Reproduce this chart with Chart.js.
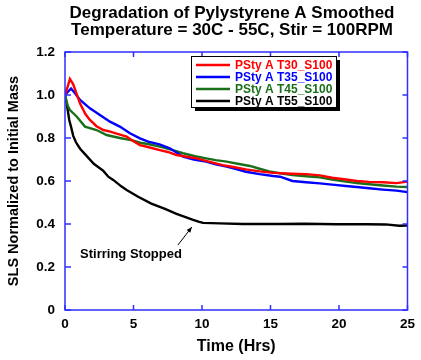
<!DOCTYPE html>
<html>
<head>
<meta charset="utf-8">
<script src="https://cdn.jsdelivr.net/npm/chart.js@4.4.1/dist/chart.umd.min.js"></script>
<style>
html,body{margin:0;padding:0;background:#fff;}
#wrap{width:421px;height:360px;position:relative;}
</style>
</head>
<body>
<div id="wrap"><canvas id="c" width="421" height="360"></canvas></div>
<script>
const titleLines = ["Degradation of Pylystyrene A Smoothed", "Temperature = 30C - 55C, Stir = 100RPM"];
const xTitle = "Time (Hrs)";
const yTitle = "SLS Normalized to Initial Mass";
const seriesNames = ["PSty A T30_S100", "PSty A T35_S100", "PSty A T45_S100", "PSty A T55_S100"];
const seriesColors = ["#ff0000", "#0000ff", "#1a701a", "#000000"];
const xTicks = [0, 5, 10, 15, 20, 25];
const yTicks = [0, 0.2, 0.4, 0.6, 0.8, 1, 1.2];
const annotationText = "Stirring Stopped";
const annotationTextAt = [1.1, 0.242];
const annotationArrowFrom = [8.24, 0.302];
const annotationArrowTo = [9.26, 0.386];

const t30 = [0,0.2,0.36,0.6,1.1,1.5,1.82,2.3,2.8,3.3,3.77,4.5,5.0,5.47,6.05,6.92,7.5,8.14,9.6,10.5,11.5,12.3,13.2,14.2,15.2,16.6,17.6,18.6,19.5,20.5,21.3,22.2,23.2,24.2,25];
const v30 = [1.0,1.04,1.075,1.05,0.96,0.91,0.884,0.855,0.837,0.83,0.82,0.806,0.785,0.767,0.758,0.744,0.735,0.721,0.705,0.69,0.674,0.665,0.654,0.645,0.638,0.634,0.632,0.626,0.615,0.607,0.6,0.596,0.594,0.59,0.597];

const t35 = [0,0.44,0.7,1.1,1.82,2.55,3.28,4.0,4.74,5.47,6.07,6.9,7.65,8.62,9.4,10.3,11.0,11.8,12.5,13.2,14.2,15.2,15.7,16.6,17.6,18.6,19.5,20.5,21.3,22.2,23.2,24.2,25];
const v35 = [1.0,1.03,1.01,0.977,0.938,0.907,0.876,0.853,0.822,0.798,0.783,0.77,0.752,0.713,0.7,0.69,0.678,0.667,0.655,0.643,0.632,0.623,0.62,0.6,0.594,0.589,0.583,0.577,0.572,0.566,0.56,0.555,0.548];

const t45 = [0,0.2,0.36,0.85,1.46,2.3,3.04,4.0,5.0,5.47,6.07,6.92,7.8,8.62,9.5,10.3,11.0,11.8,12.6,13.5,14.2,14.9,15.7,16.6,17.6,18.6,19.5,20.5,21.3,22.2,23.2,24.2,25];
const v45 = [1.0,0.95,0.93,0.9,0.853,0.837,0.814,0.8,0.788,0.778,0.772,0.76,0.745,0.729,0.715,0.705,0.697,0.69,0.68,0.67,0.657,0.645,0.636,0.628,0.622,0.617,0.607,0.597,0.591,0.585,0.579,0.574,0.572];

const t55 = [0,0.15,0.31,0.45,0.6,0.8,1.1,1.46,2.1,2.8,3.16,3.52,4.13,4.5,5.34,6.3,7.3,8.14,8.8,9.35,9.8,10.08,11.3,13,15.7,17.5,19.8,22,23.4,24.4,25];
const v55 = [1.0,0.95,0.884,0.85,0.81,0.78,0.75,0.725,0.68,0.647,0.62,0.605,0.574,0.558,0.527,0.495,0.47,0.447,0.432,0.419,0.41,0.405,0.403,0.4,0.4,0.401,0.399,0.399,0.398,0.392,0.393];

const FONT = "'Liberation Sans', Arial, Helvetica, sans-serif";
const AXIS_BLUE = "#2f2fff";

function pts(t, v){ return t.map((x,i)=>({x:x, y:v[i]})); }
const allT = [t30,t35,t45,t55];
const allV = [v30,v35,v45,v55];

const datasets = seriesNames.map((name,i)=>({
  label: name,
  data: pts(allT[i], allV[i]),
  borderColor: seriesColors[i],
  backgroundColor: seriesColors[i],
  borderWidth: 2.4,
  pointRadius: 0,
  tension: 0,
  fill: false
}));
// draw black first so colored lines are layered like reference
datasets.forEach((d,i)=>{ d.order = i; });

const decor = {
  id: 'decor',
  afterDraw(chart){
    const ctx = chart.ctx;
    const a = chart.chartArea;
    const xs = chart.scales.x, ys = chart.scales.y;
    ctx.save();
    // frame
    ctx.strokeStyle = AXIS_BLUE;
    ctx.lineWidth = 1.5;
    ctx.strokeRect(a.left, a.top, a.right - a.left, a.bottom - a.top);
    // inward ticks on all sides
    ctx.beginPath();
    xTicks.forEach(v=>{
      const p = xs.getPixelForValue(v);
      ctx.moveTo(p, a.bottom); ctx.lineTo(p, a.bottom - 5);
      ctx.moveTo(p, a.top); ctx.lineTo(p, a.top + 5);
    });
    yTicks.forEach(v=>{
      const p = ys.getPixelForValue(v);
      ctx.moveTo(a.left, p); ctx.lineTo(a.left + 6, p);
      ctx.moveTo(a.right, p); ctx.lineTo(a.right - 5, p);
    });
    ctx.stroke();

    // title
    ctx.fillStyle = '#000';
    ctx.font = "bold 17px " + FONT;
    ctx.textAlign = 'center';
    ctx.textBaseline = 'alphabetic';
    ctx.fillText(titleLines[0], 232, 18);
    ctx.fillText(titleLines[1], 232, 35);

    // legend box with shadow
    const lx = 191, ly = 56, lw = 145, lh = 51;
    ctx.fillStyle = '#000';
    ctx.fillRect(lx + 4, ly + 4, lw, lh);
    ctx.fillStyle = '#fff';
    ctx.fillRect(lx, ly, lw, lh);
    ctx.strokeStyle = '#000';
    ctx.lineWidth = 1;
    ctx.strokeRect(lx + 0.5, ly + 0.5, lw, lh);
    ctx.font = "bold 12px " + FONT;
    ctx.textAlign = 'left';
    ctx.textBaseline = 'middle';
    chart.data.datasets.forEach((d, i)=>{
      const y = 65 + i * 12;
      ctx.strokeStyle = d.borderColor;
      ctx.lineWidth = 2.4;
      ctx.beginPath();
      ctx.moveTo(196, y); ctx.lineTo(230, y);
      ctx.stroke();
      ctx.fillStyle = d.borderColor;
      ctx.fillText(d.label, 235, y + 0.5);
    });

    // annotation
    ctx.fillStyle = '#000';
    ctx.font = "bold 13px " + FONT;
    ctx.textAlign = 'left';
    ctx.textBaseline = 'alphabetic';
    ctx.fillText(annotationText, xs.getPixelForValue(annotationTextAt[0]), ys.getPixelForValue(annotationTextAt[1]));
    const x0 = xs.getPixelForValue(annotationArrowFrom[0]), y0 = ys.getPixelForValue(annotationArrowFrom[1]);
    const x1 = xs.getPixelForValue(annotationArrowTo[0]), y1 = ys.getPixelForValue(annotationArrowTo[1]);
    ctx.strokeStyle = '#000';
    ctx.lineWidth = 1;
    ctx.beginPath(); ctx.moveTo(x0, y0); ctx.lineTo(x1, y1); ctx.stroke();
    const ang = Math.atan2(y1 - y0, x1 - x0);
    const hl = 6;
    ctx.beginPath();
    ctx.moveTo(x1, y1);
    ctx.lineTo(x1 - hl*Math.cos(ang - 0.4), y1 - hl*Math.sin(ang - 0.4));
    ctx.lineTo(x1 - hl*Math.cos(ang + 0.4), y1 - hl*Math.sin(ang + 0.4));
    ctx.closePath();
    ctx.fill();
    ctx.restore();
  }
};

new Chart(document.getElementById('c'), {
  type: 'line',
  data: { datasets: datasets },
  options: {
    responsive: false,
    animation: false,
    devicePixelRatio: 1,
    layout: { padding: { left: 0, right: 13, top: 52, bottom: 0 } },
    plugins: { legend: { display: false }, title: { display: false }, tooltip: { enabled: false } },
    scales: {
      x: {
        type: 'linear', min: 0, max: 25,
        afterBuildTicks: s => { s.ticks = xTicks.map(v=>({value:v})); },
        afterFit: s => { s.height = 50; },
        grid: { display: true, drawOnChartArea: false, drawTicks: false },
        border: { display: false },
        ticks: { color: '#000', font: { family: FONT, size: 13.5, weight: 'bold' }, padding: 6, maxRotation: 0 },
        title: { display: true, text: xTitle, color: '#000', font: { family: FONT, size: 16, weight: 'bold' }, padding: { top: 0, bottom: 4 } }
      },
      y: {
        type: 'linear', min: 0, max: 1.2,
        afterBuildTicks: s => { s.ticks = yTicks.map(v=>({value:v})); },
        afterFit: s => { s.width = 65; },
        grid: { display: true, drawOnChartArea: false, drawTicks: false },
        border: { display: false },
        ticks: { color: '#000', font: { family: FONT, size: 13.5, weight: 'bold' }, padding: 10 },
        title: { display: true, text: yTitle, color: '#000', font: { family: FONT, size: 14.5, weight: 'bold' }, padding: { top: 5, bottom: 0 } }
      }
    }
  },
  plugins: [decor]
});
</script>
</body>
</html>
